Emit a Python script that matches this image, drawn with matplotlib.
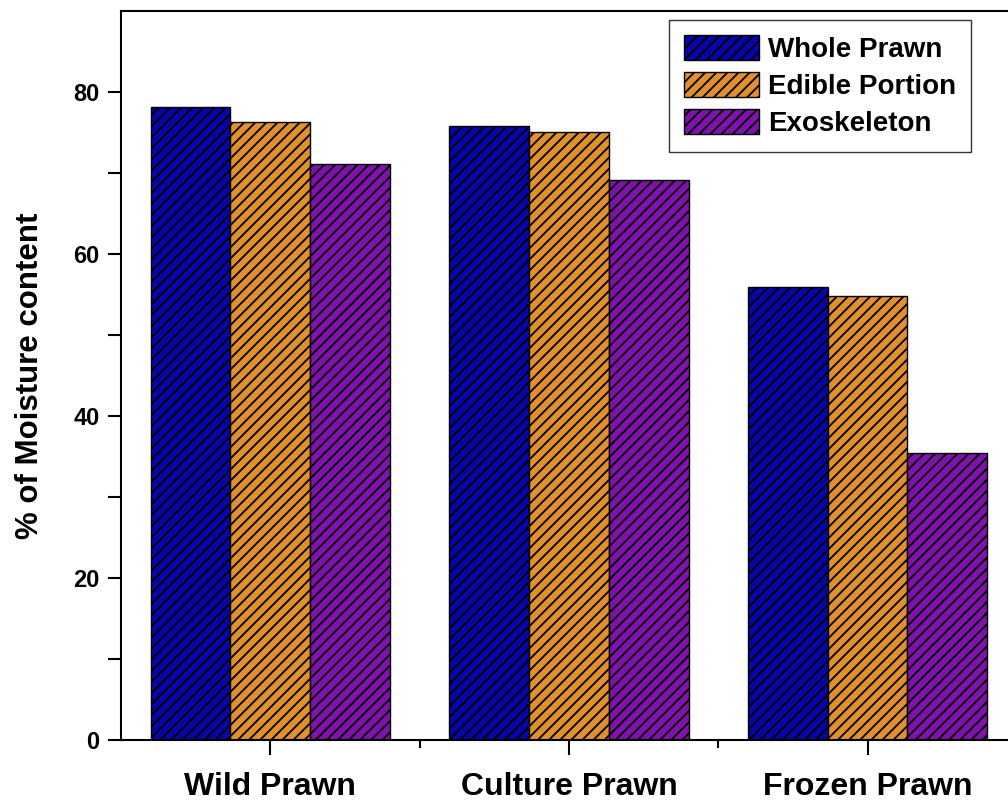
import numpy as np
import matplotlib
matplotlib.use("Agg")
import matplotlib.pyplot as plt

# datos
categorias = ["Wild Prawn", "Culture Prawn", "Frozen Prawn"]
series = ["Whole Prawn", "Edible Portion", "Exoskeleton"]
whole = [78.2, 75.8, 55.9]
edible = [76.3, 75.1, 54.8]
exo = [71.1, 69.1, 35.4]
colores = ["#0606a6", "#e0902c", "#7e12aa"]

plt.rcParams["font.family"] = ["Liberation Sans", "DejaVu Sans"]
plt.rcParams["font.weight"] = "bold"
plt.rcParams["hatch.linewidth"] = 1.3

fig = plt.figure(figsize=(10.08, 8), dpi=100)
ax = fig.add_axes([0.12, 0.075, 0.88, 0.911])

x = np.arange(len(categorias))
ancho = 0.267
for i, (nombre, vals) in enumerate(zip(series, [whole, edible, exo])):
    ax.bar(x + (i - 1) * ancho, vals, ancho, color=colores[i], edgecolor="black",
           linewidth=1.0, hatch="///", label=nombre)

ax.set_xlim(-0.5, 2.47)
ax.set_ylim(0, 90)
ax.spines["right"].set_visible(False)
for s in ax.spines.values():
    s.set_linewidth(1.5)

ax.set_yticks([0, 20, 40, 60, 80])
ax.set_yticks(np.arange(10, 90, 20), minor=True)
ax.set_xticks(x)
ax.set_xticks([0.5, 1.5], minor=True)
ax.set_xticklabels(categorias, fontsize=23, fontweight="bold")
ax.tick_params(axis="y", which="major", length=9.5, width=1.5, labelsize=17, pad=6)
ax.tick_params(axis="y", which="minor", length=9.5, width=1.5)
ax.tick_params(axis="x", which="major", length=11, width=1.5, pad=12)
ax.tick_params(axis="x", which="minor", length=6, width=1.5)
ax.set_ylabel("% of Moisture content", fontsize=22.5, fontweight="bold", labelpad=20)

leg = ax.legend(loc="upper left", bbox_to_anchor=(0.618, 0.988),
                prop={"weight": "bold", "size": 20}, fancybox=False, frameon=True,
                handlelength=2.7, handleheight=1.0, handletextpad=0.3,
                labelspacing=0.32, borderpad=0.55, borderaxespad=0.0)
leg.get_frame().set_edgecolor("black")
leg.get_frame().set_linewidth(1.0)

fig.savefig("out.png", dpi=100)
